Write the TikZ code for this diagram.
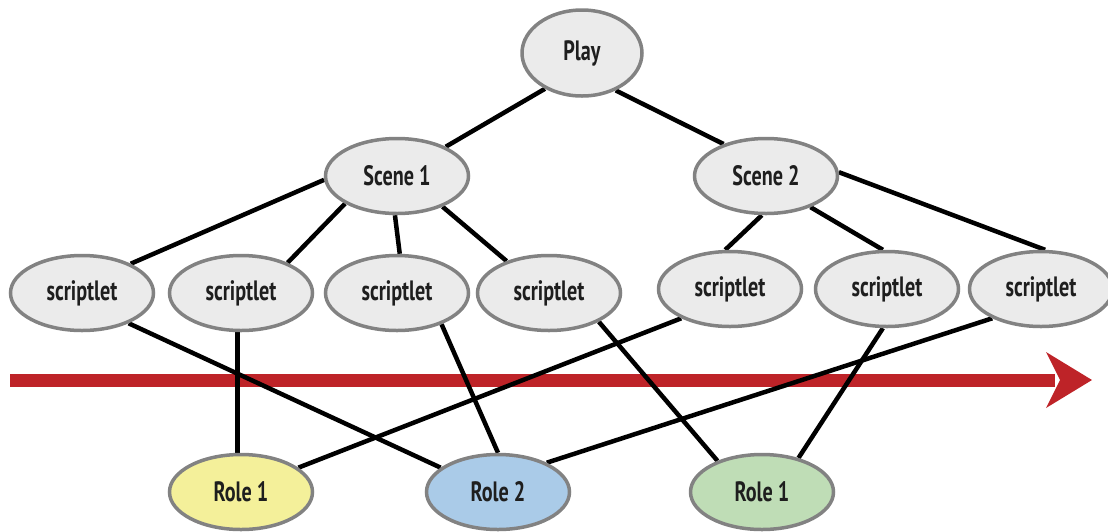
\documentclass[tikz,border=0pt]{standalone}
\usepackage{fontspec}
\setmainfont{PT Sans}[FakeStretch=0.72]
\usetikzlibrary{shapes.geometric, backgrounds}
\definecolor{nodefill}{HTML}{EBEBEB}
\definecolor{nodeline}{HTML}{828282}
\definecolor{roleyellow}{HTML}{F4F09A}
\definecolor{roleblue}{HTML}{AACBE8}
\definecolor{rolegreen}{HTML}{BFDDB6}
\definecolor{timered}{HTML}{BE2328}
\definecolor{ink}{HTML}{1E1E1E}
\tikzset{
  unit/.style={ellipse, draw=nodeline, line width=3.5pt, fill=nodefill,
    inner sep=0pt, minimum width=143pt, minimum height=75pt, text=ink,
    font=\fontsize{28}{30}\selectfont\bfseries},
  playbox/.style={unit, minimum width=120pt, minimum height=86pt},
  link/.style={line width=4.5pt, black},
  timeline/.style={timered, line width=13pt}
}
\begin{document}
\begin{tikzpicture}[x=1pt, y=-1pt]
\useasboundingbox (0,0) rectangle (1108,531);
% tree nodes
\node[playbox] (play) at (582,53) {Play};
\node[unit] (sc1) at (397,176) {Scene 1};
\node[unit] (sc2) at (766,176) {Scene 2};
\node[unit] (s1) at (82,293) {scriptlet};
\node[unit] (s2) at (241,293) {scriptlet};
\node[unit] (s3) at (397,293) {scriptlet};
\node[unit] (s4) at (549,293) {scriptlet};
\node[unit] (s5) at (730,289) {scriptlet};
\node[unit] (s6) at (887,289) {scriptlet};
\node[unit] (s7) at (1041,289) {scriptlet};
\node[unit, fill=roleyellow] (r1) at (241,492) {Role 1};
\node[unit, fill=roleblue] (r2) at (498,492) {Role 2};
\node[unit, fill=rolegreen] (r3) at (762,492) {Role 1};
\begin{pgfonlayer}{background}
  % time arrow
  \coordinate (tstart) at (10,380);
  \coordinate (tneck) at (1055,380);
  \coordinate (tend) at (1092,380);
  \draw[timeline] (tstart) -- (tneck);
  \fill[timered] (1046,352) -- (tend) -- (1046,408) -- (1060,380) -- cycle;
  % play and scenes
  \draw[link] (play.-136) -- (sc1.31);
  \draw[link] (play.-48) -- (sc2.143);
  % scene 1 to its scriptlets
  \draw[link] (sc1.183) -- (s1.31);
  \draw[link] (sc1.208) -- (s2.33);
  \draw[link] (sc1.-93) -- (s3.86);
  \draw[link] (sc1.-34) -- (s4.143);
  % scene 2 to its scriptlets
  \draw[link] (sc2.-96) -- (s5.97);
  \draw[link] (sc2.-35) -- (s6.96);
  \draw[link] (sc2.3) -- (s7.84);
  % scriptlets to roles
  \draw[link] (s1.-33) -- (r2.157);
  \draw[link] (s2.-95) -- (r1.95);
  \draw[link] (s3.-35) -- (r2.90);
  \draw[link] (s4.-30) -- (r3.145);
  \draw[link] (s5.211) -- (r1.23);
  \draw[link] (s6.-96) -- (r3.43);
  \draw[link] (s7.211) -- (r2.31);
\end{pgfonlayer}
\end{tikzpicture}
\end{document}
